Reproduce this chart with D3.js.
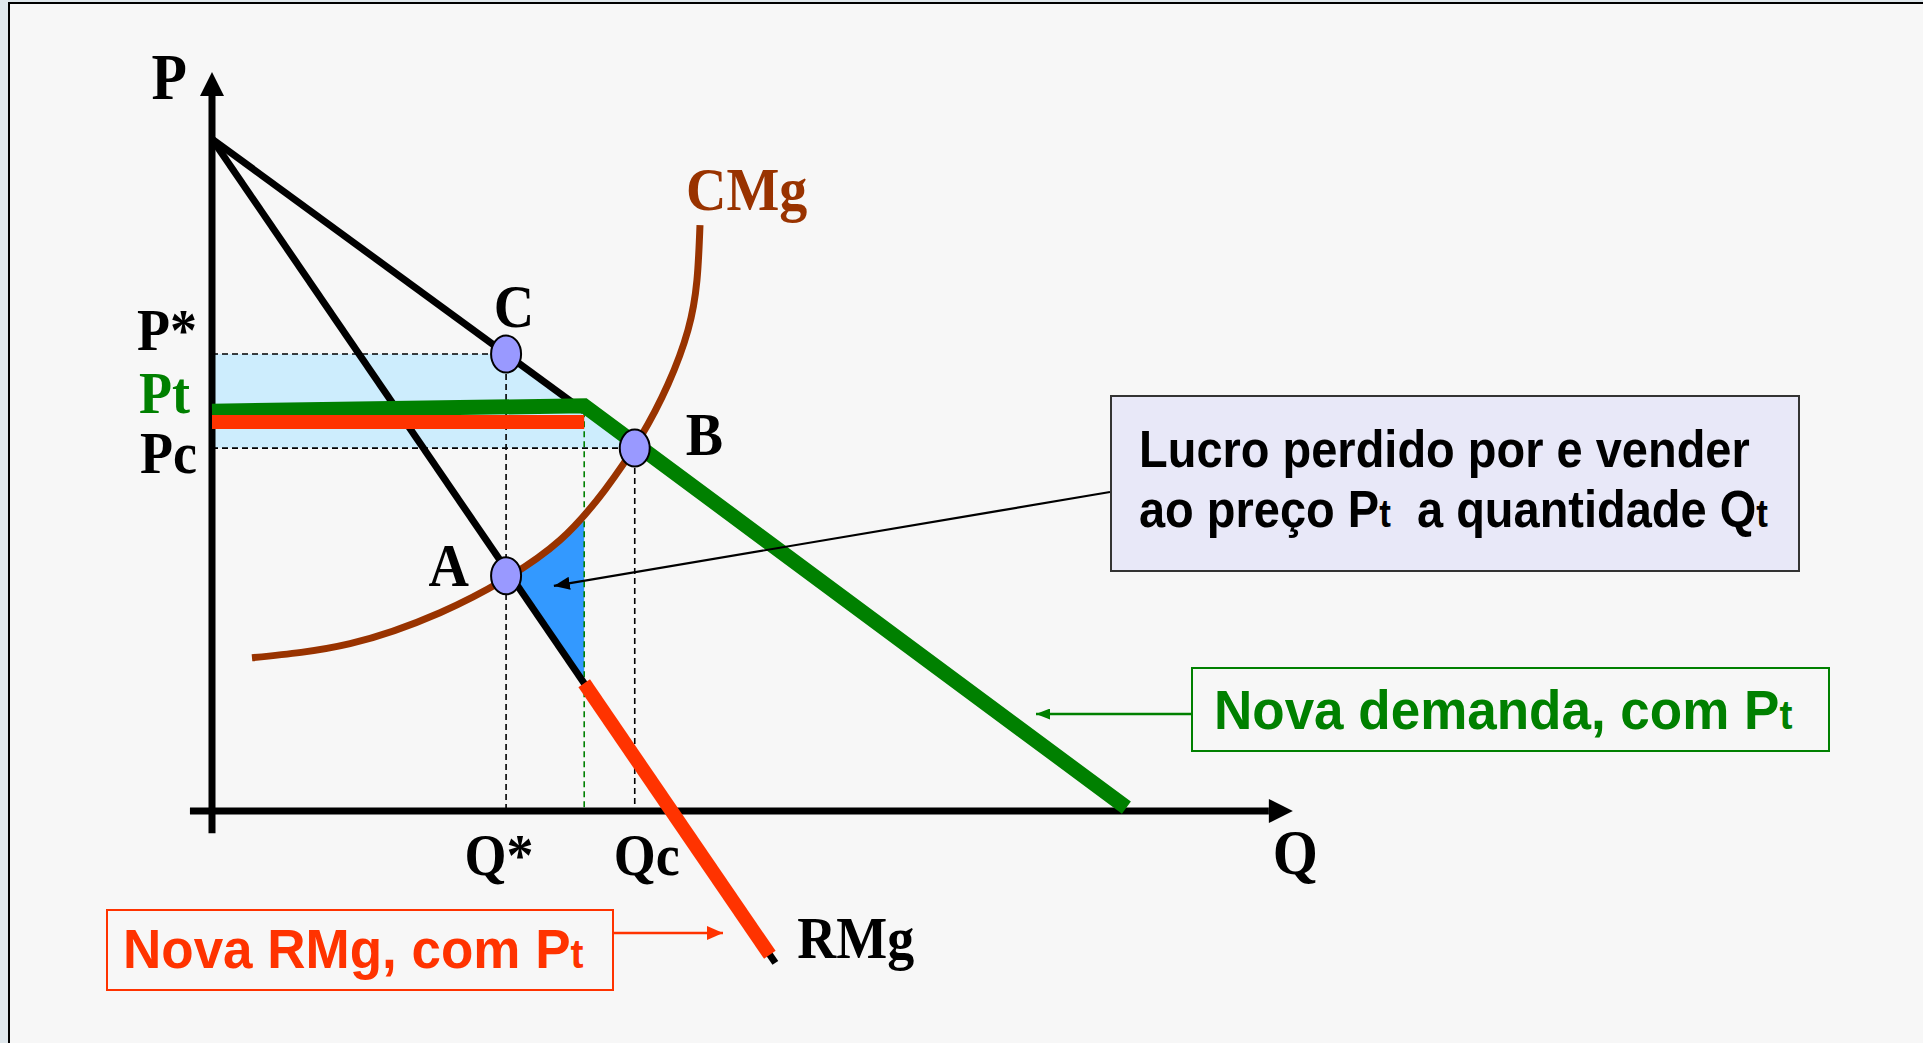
<!DOCTYPE html>
<html>
<head>
<meta charset="utf-8">
<script src="https://cdn.jsdelivr.net/npm/d3@7/dist/d3.min.js"></script>
<style>
  html, body { margin: 0; padding: 0; background: #dfe7ec; overflow: hidden; }
  .serif { font-family: "Liberation Serif", "Times New Roman", serif; font-weight: bold; }
  .sans { font-family: "Liberation Sans", Arial, sans-serif; font-weight: bold; white-space: pre; }
</style>
</head>
<body>
<svg id="chart"></svg>
<script>
var width = 1923;
var height = 1043;

// valores (Q, P)
var qStar = 3.2, pStar = 6.8;
var qC = 4.6, pC = 5.4;
var qT = 4.05, pT = 5.95;

var demanda = [[0, 10], [4.05, 5.95]];
var rmg = [[0, 10], [6.13, -2.26]];
var cmg = [[0.435, 2.28], [1.502, 2.49], [2.481, 2.95], [3.177, 3.44], [3.787, 4.03], [4.276, 4.78],
           [4.657, 5.55], [4.962, 6.35], [5.18, 7.16], [5.277, 7.9], [5.31, 8.72]];
var novaDemanda = [[0, 5.95], [4.05, 6.03], [9.95, 0.05]];
var novaRmgTopo = [[0, 5.79], [4.05, 5.79]];
var novaRmgBaixo = [[4.05, 1.9], [6.07, -2.14]];

var pontos = [
  { id: 'C', q: qStar, p: pStar },
  { id: 'B', q: qC, p: pC },
  { id: 'A', q: qStar, p: 3.5 }
];
var precos = [
  { label: 'P*', p: pStar, cor: '#000' },
  { label: 'Pt', p: pT, cor: '#008000' },
  { label: 'Pc', p: pC, cor: '#000' }
];
var quantidades = [
  { label: 'Q*', q: qStar },
  { label: 'Qc', q: qC }
];
var eixoQ = [-0.24, 11.5];
var eixoP = [-0.33, 10.64];

var x = d3.scaleLinear().domain([0, 10]).range([212, 1131]);
var y = d3.scaleLinear().domain([0, 10]).range([811, 139]);

var line = d3.line()
  .x(function (d) { return x(d[0]); })
  .y(function (d) { return y(d[1]); });

var svg = d3.select('#chart')
  .attr('width', width)
  .attr('height', height);

var defs = svg.append('defs');
addArrow('setaPreta', '#000', 16, 13);
addArrow('setaVerde', '#008000', 14, 11);
addArrow('setaVermelha', '#ff3300', 16, 14);

// fundo do slide
svg.append('rect')
  .attr('x', 9).attr('y', 3)
  .attr('width', width).attr('height', height)
  .attr('fill', '#f7f7f7')
  .attr('stroke', '#000')
  .attr('stroke-width', 2);

// area entre Pc e P*
svg.append('path')
  .attr('d', line([[0, pStar], [qStar, pStar], [qC, pC], [0, pC]]) + 'Z')
  .attr('fill', '#cdedfd');

// lucro perdido: entre CMg e RMg de Q* ate Qt
var qs = [qStar].concat(cmg.filter(function (d) { return d[0] > qStar && d[0] < qT; }).map(function (d) { return d[0]; }), [qT]);
var area = d3.area()
  .x(function (q) { return x(q); })
  .y0(function (q) { return y(interp(rmg, q)); })
  .y1(function (q) { return y(interp(cmg, q)); });
svg.append('path')
  .attr('d', area(qs))
  .attr('fill', '#3399ff');

// linhas tracejadas
var guias = [
  [[0, pStar], [qStar, pStar]],
  [[qStar, pStar], [qStar, 0]],
  [[0, pC], [qC, pC]],
  [[qC, pC], [qC, 0]]
];
svg.selectAll('.guia')
  .data(guias)
  .enter()
  .append('path')
  .attr('class', 'guia')
  .attr('d', line)
  .attr('fill', 'none')
  .attr('stroke', '#000')
  .attr('stroke-width', 1.6)
  .attr('stroke-dasharray', '6,4');

svg.append('path')
  .attr('d', line([[qT, pT], [qT, 0]]))
  .attr('fill', 'none')
  .attr('stroke', '#008000')
  .attr('stroke-width', 1.6)
  .attr('stroke-dasharray', '6,4');

// eixos
var x0 = x(0), y0 = y(0);
svg.append('line')
  .attr('x1', x0).attr('y1', y(eixoP[0]))
  .attr('x2', x0).attr('y2', y(eixoP[1]))
  .attr('stroke', '#000').attr('stroke-width', 7);
svg.append('path')
  .attr('d', 'M' + (x0 - 12) + ',' + y(eixoP[1]) + 'L' + x0 + ',' + (y(eixoP[1]) - 24) + 'L' + (x0 + 12) + ',' + y(eixoP[1]) + 'Z')
  .attr('fill', '#000');
svg.append('line')
  .attr('x1', x(eixoQ[0])).attr('y1', y0)
  .attr('x2', x(eixoQ[1])).attr('y2', y0)
  .attr('stroke', '#000').attr('stroke-width', 7);
svg.append('path')
  .attr('d', 'M' + x(eixoQ[1]) + ',' + (y0 - 12) + 'L' + (x(eixoQ[1]) + 24) + ',' + y0 + 'L' + x(eixoQ[1]) + ',' + (y0 + 12) + 'Z')
  .attr('fill', '#000');

// demanda e receita marginal
[demanda, rmg].forEach(function (d) {
  svg.append('path')
    .attr('d', line(d))
    .attr('fill', 'none')
    .attr('stroke', '#000')
    .attr('stroke-width', 7);
});

// custo marginal
var curva = d3.line()
  .x(function (d) { return x(d[0]); })
  .y(function (d) { return y(d[1]); })
  .curve(d3.curveNatural);
svg.append('path')
  .attr('d', curva(cmg))
  .attr('fill', 'none')
  .attr('stroke', '#993300')
  .attr('stroke-width', 7);

// nova demanda e nova RMg
svg.append('path')
  .attr('d', line(novaDemanda))
  .attr('fill', 'none')
  .attr('stroke', '#008000')
  .attr('stroke-width', 15);
[novaRmgTopo, novaRmgBaixo].forEach(function (d) {
  svg.append('path')
    .attr('d', line(d))
    .attr('fill', 'none')
    .attr('stroke', '#ff3300')
    .attr('stroke-width', 14);
});

// pontos A, B, C
svg.selectAll('.ponto')
  .data(pontos)
  .enter()
  .append('ellipse')
  .attr('class', 'ponto')
  .attr('cx', function (d) { return x(d.q); })
  .attr('cy', function (d) { return y(d.p); })
  .attr('rx', 15)
  .attr('ry', 18.5)
  .attr('fill', '#9999ff')
  .attr('stroke', '#000')
  .attr('stroke-width', 2);

var desloc = { C: [8, -27, 'middle'], B: [51, 7, 'start'], A: [-37, 10, 'end'] };
svg.selectAll('.rotPonto')
  .data(pontos)
  .enter()
  .append('text')
  .attr('class', 'serif rotPonto')
  .attr('x', function (d) { return x(d.q) + desloc[d.id][0]; })
  .attr('y', function (d) { return y(d.p) + desloc[d.id][1]; })
  .attr('text-anchor', function (d) { return desloc[d.id][2]; })
  .attr('font-size', 56)
  .text(function (d) { return d.id; })
  .call(stretch, 1.1);

// rotulos do eixo P
var posPreco = { 'P*': [15, -4], 'Pt': [22, 2], 'Pc': [15, 25] };
svg.selectAll('.rotP')
  .data(precos)
  .enter()
  .append('text')
  .attr('class', 'serif rotP')
  .attr('x', function (d) { return x0 - posPreco[d.label][0]; })
  .attr('y', function (d) { return y(d.p) + posPreco[d.label][1]; })
  .attr('text-anchor', 'end')
  .attr('fill', function (d) { return d.cor; })
  .attr('font-size', 54)
  .text(function (d) { return d.label; })
  .call(stretch, 1.1);

// rotulos do eixo Q
var dxQtd = { 'Q*': -7, 'Qc': 12 };
svg.selectAll('.rotQ')
  .data(quantidades)
  .enter()
  .append('text')
  .attr('class', 'serif rotQ')
  .attr('x', function (d) { return x(d.q) + dxQtd[d.label]; })
  .attr('y', y0 + 64)
  .attr('text-anchor', 'middle')
  .attr('font-size', 54)
  .text(function (d) { return d.label; })
  .call(stretch, 1.1);

svg.append('text').attr('class', 'serif')
  .attr('x', x0 - 25).attr('y', y(eixoP[1]) + 3)
  .attr('text-anchor', 'end').attr('font-size', 58).text('P')
  .call(stretch, 1.12);
svg.append('text').attr('class', 'serif')
  .attr('x', x(eixoQ[1]) + 4).attr('y', y0 + 63)
  .attr('font-size', 58).text('Q')
  .call(stretch, 1.1);
svg.append('text').attr('class', 'serif')
  .attr('x', x(cmg[cmg.length - 1][0]) - 14).attr('y', y(cmg[cmg.length - 1][1]) - 15)
  .attr('fill', '#993300').attr('font-size', 56).text('CMg')
  .call(stretch, 1.1);
svg.append('text').attr('class', 'serif')
  .attr('x', x(rmg[1][0]) + 22).attr('y', y(rmg[1][1]) - 5)
  .attr('font-size', 54).text('RMg')
  .call(stretch, 1.1);

// caixa do lucro perdido
svg.append('line')
  .attr('x1', 1110).attr('y1', 492)
  .attr('x2', x(3.72)).attr('y2', y(3.35))
  .attr('stroke', '#000').attr('stroke-width', 2.2)
  .attr('marker-end', 'url(#setaPreta)');
svg.append('rect')
  .attr('x', 1111).attr('y', 396).attr('width', 688).attr('height', 175)
  .attr('fill', '#e8e8f8').attr('stroke', '#333').attr('stroke-width', 2);
var t1 = svg.append('text').attr('class', 'sans').attr('font-size', 47).attr('x', 1139).attr('y', 467);
t1.text('Lucro perdido por e vender');
t1.call(stretch, 1.12);
var t2 = svg.append('text').attr('class', 'sans').attr('font-size', 47).attr('x', 1139).attr('y', 527);
t2.append('tspan').text('ao preço P');
t2.append('tspan').attr('font-size', 35).text('t');
t2.append('tspan').text('  a quantidade Q');
t2.append('tspan').attr('font-size', 35).text('t');
t2.call(stretch, 1.12);

// caixa da nova demanda
svg.append('line')
  .attr('x1', 1192).attr('y1', 714).attr('x2', 1036).attr('y2', 714)
  .attr('stroke', '#008000').attr('stroke-width', 2.5)
  .attr('marker-end', 'url(#setaVerde)');
svg.append('rect')
  .attr('x', 1192).attr('y', 668).attr('width', 637).attr('height', 83)
  .attr('fill', 'none').attr('stroke', '#008000').attr('stroke-width', 2);
var t3 = svg.append('text').attr('class', 'sans').attr('font-size', 53).attr('x', 1214).attr('y', 729).attr('fill', '#008000');
t3.append('tspan').text('Nova demanda, com P');
t3.append('tspan').attr('font-size', 39).text('t');
t3.call(stretch, 1.05);

// caixa da nova RMg
svg.append('line')
  .attr('x1', 613).attr('y1', 933).attr('x2', 723).attr('y2', 933)
  .attr('stroke', '#ff3300').attr('stroke-width', 2.5)
  .attr('marker-end', 'url(#setaVermelha)');
svg.append('rect')
  .attr('x', 107).attr('y', 910).attr('width', 506).attr('height', 80)
  .attr('fill', 'none').attr('stroke', '#ff3300').attr('stroke-width', 2);
var t4 = svg.append('text').attr('class', 'sans').attr('font-size', 53).attr('x', 123).attr('y', 968).attr('fill', '#ff3300');
t4.append('tspan').text('Nova RMg, com P');
t4.append('tspan').attr('font-size', 39).text('t');
t4.call(stretch, 1.05);

function stretch (sel, s) {
  sel.attr('transform', function () {
    var yy = +this.getAttribute('y');
    return 'translate(0,' + (yy * (1 - s)) + ') scale(1,' + s + ')';
  });
}

function addArrow (id, color, len, wid) {
  defs.append('marker')
    .attr('id', id)
    .attr('markerUnits', 'userSpaceOnUse')
    .attr('viewBox', '0 0 ' + len + ' ' + wid)
    .attr('markerWidth', len)
    .attr('markerHeight', wid)
    .attr('refX', len)
    .attr('refY', wid / 2)
    .attr('orient', 'auto')
    .append('path')
    .attr('d', 'M0,0L' + len + ',' + wid / 2 + 'L0,' + wid + 'Z')
    .attr('fill', color);
}

function interp (pts, q) {
  for (var i = 1; i < pts.length; i++) {
    if (q <= pts[i][0]) {
      var a = pts[i - 1], b = pts[i];
      return a[1] + (b[1] - a[1]) * (q - a[0]) / (b[0] - a[0]);
    }
  }
  return pts[pts.length - 1][1];
}
</script>
</body>
</html>
